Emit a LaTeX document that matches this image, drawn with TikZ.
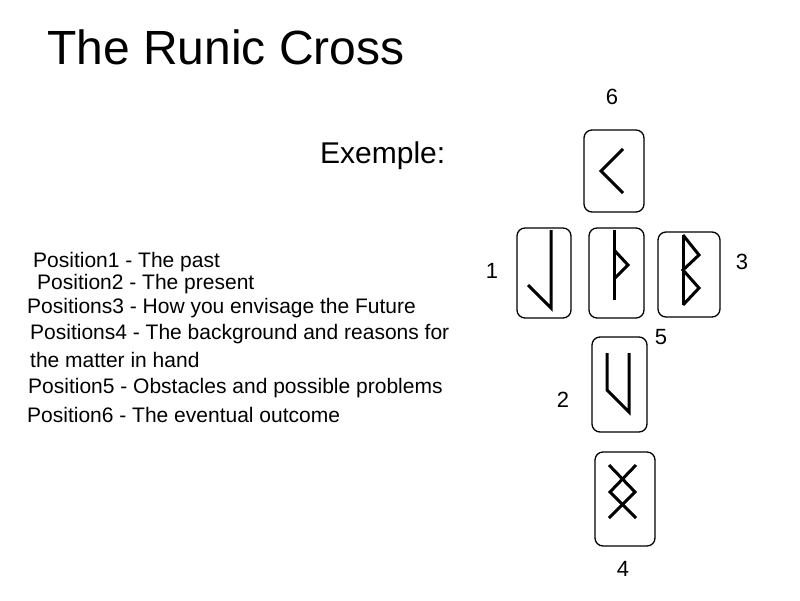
\documentclass[tikz,border=0pt]{standalone}
\usepackage{fontspec}
\setmainfont{Liberation Sans}
\begin{document}
\begin{tikzpicture}[x=1pt,y=-1pt,
  tile/.style={draw,line width=1.3pt,rounded corners=8pt},
  rune/.style={line width=3pt},
  lbl/.style={font=\fontsize{22}{24}\selectfont,inner sep=0pt},
  txt/.style={font=\fontsize{21}{24}\selectfont,anchor=west,inner sep=0pt}]
\useasboundingbox (0,0) rectangle (800,600);
\node[anchor=west,inner sep=0pt,font=\fontsize{48}{52}\selectfont] (title) at (47,47) {The Runic Cross};
\node[anchor=west,inner sep=0pt,font=\fontsize{30}{34}\selectfont] (ex) at (320,156) {Exemple:};
\node[txt] (p1) at (33,262) {Position1 - The past};
\node[txt] (p2) at (37,284) {Position2 - The present};
\node[txt] (p3) at (27,308) {Positions3 - How you envisage the Future};
\node[txt] (p4) at (30,334) {Positions4 - The background and reasons for};
\node[txt] (p4b) at (30,360) {the matter in hand};
\node[txt] (p5) at (28,388) {Position5 - Obstacles and possible problems};
\node[txt] (p6) at (27,415) {Position6 - The eventual outcome};
% tiles
\draw[tile] (584,130) rectangle (644,212);
\draw[tile] (517,228) rectangle (571,318);
\draw[tile] (589,228) rectangle (644,318);
\draw[tile] (658,232) rectangle (720,317);
\draw[tile] (592,337) rectangle (647,432);
\draw[tile] (595,452) rectangle (655,546);
% runes
\draw[rune] (623,149) -- (601,171) -- (623,193);
\draw[rune] (551,230) -- (551,308) -- (528,285);
\draw[rune] (614,230) -- (614,300);
\draw[rune] (614,250) -- (628,265) -- (614,279);
\draw[rune] (683,235) -- (683,305);
\draw[rune] (683,235) -- (699,255) -- (683,270) -- (699,288) -- (683,305);
\draw[rune] (607,353) -- (607,390) -- (629,412) -- (629,353);
\draw[rune] (609,465) -- (635,492) -- (609,518);
\draw[rune] (636,465) -- (610,492) -- (636,518);
% labels
\node[lbl] (n6) at (612,97) {6};
\node[lbl] (n1) at (492,271) {1};
\node[lbl] (n3) at (742,262) {3};
\node[lbl] (n5) at (661,337) {5};
\node[lbl] (n2) at (563,400) {2};
\node[lbl] (n4) at (623,569) {4};
\end{tikzpicture}
\end{document}
